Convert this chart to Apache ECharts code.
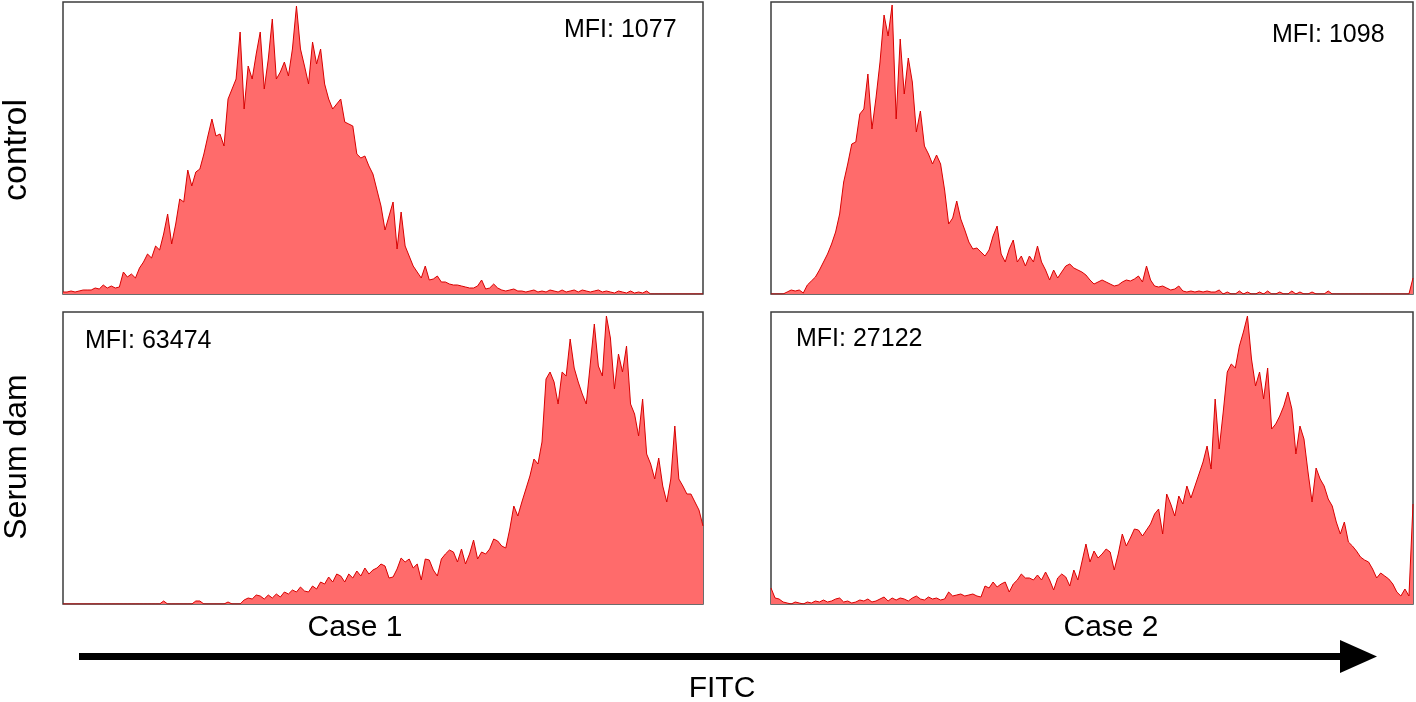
<!DOCTYPE html>
<html>
<head>
<meta charset="utf-8">
<script src="https://cdn.jsdelivr.net/npm/echarts@6/dist/echarts.min.js"></script>
<style>
html,body{margin:0;padding:0;background:#fff;}
#chart{width:1416px;height:702px;}
</style>
</head>
<body>
<div id="chart"></div>
<script>
// Histogram counts (relative heights, 160 channels per panel)
const controlCase1 = [2,2,3,2,3,4,4,4,6,5,9,6,8,6,7,22,17,20,16,26,32,40,36,48,44,60,80,50,70,95,92,124,108,122,125,140,158,175,158,160,148,195,205,215,262,185,228,215,240,262,205,235,275,215,222,232,218,245,288,245,228,210,252,230,245,210,195,185,190,195,172,170,168,140,136,138,128,120,104,88,64,78,92,45,82,48,38,28,22,16,28,14,15,18,12,12,10,9,9,8,7,6,6,8,14,5,6,10,6,4,3,4,5,3,3,2,3,4,2,3,2,4,3,2,4,2,3,4,2,4,3,2,3,4,2,3,2,1,3,2,1,3,1,2,1,3,0,0,0,0,0,0,0,0,0,0,0,0,0,0];
const controlCase2 = [0,0,0,0,2,4,3,4,1,9,13,17,24,32,40,50,62,80,112,130,150,152,180,185,220,165,196,232,279,258,289,175,255,200,236,212,162,183,148,140,130,139,130,104,70,76,93,75,64,52,45,46,42,38,44,58,68,40,32,45,54,32,38,28,38,32,48,32,24,14,24,16,22,28,30,26,24,22,19,14,10,12,14,12,10,8,9,12,14,13,15,18,12,28,14,8,7,8,6,4,5,8,3,2,3,2,3,2,3,2,2,4,0,2,0,0,3,0,2,0,0,2,0,3,0,0,2,0,0,3,0,2,0,0,2,0,0,0,3,0,0,0,0,0,0,0,0,0,0,0,0,0,0,0,0,0,0,0,0,16];
const serumCase1 = [0,0,0,0,0,0,0,0,0,0,0,0,0,0,0,0,0,0,0,0,0,0,0,0,0,3,0,0,0,0,0,0,0,3,3,0,0,0,0,0,0,2,0,0,0,4,6,5,9,8,5,9,6,10,7,12,10,14,12,17,13,12,18,15,22,20,27,22,30,28,22,30,26,33,28,36,30,34,36,40,38,26,27,35,46,42,45,36,40,24,45,44,34,28,45,50,54,52,42,55,40,50,64,45,52,50,55,65,63,58,56,75,98,88,102,115,128,145,140,162,225,232,222,200,232,228,265,236,222,210,200,240,280,238,228,288,266,215,250,232,258,200,190,168,205,150,140,125,146,118,102,125,178,125,118,110,110,102,94,78];
const serumCase2 = [16,6,5,2,1,0,2,1,0,2,1,3,2,4,2,3,5,6,2,3,1,2,4,3,5,2,3,5,7,3,6,4,6,5,3,6,8,5,4,7,5,6,4,5,12,8,9,10,8,9,10,8,7,18,16,22,17,20,22,12,20,24,30,26,26,24,29,24,32,24,14,26,30,27,18,34,24,42,60,42,53,46,50,55,52,34,50,70,58,66,75,74,68,74,80,90,95,70,110,100,88,108,100,118,106,118,130,142,158,135,205,155,192,232,240,236,258,272,288,245,218,232,205,236,175,180,188,198,212,195,150,178,165,132,102,136,125,118,105,98,82,70,82,62,58,53,47,44,42,35,26,31,28,25,20,12,8,15,8,100];

const channels = controlCase1.map((_, i) => i);
const panelSeries = [controlCase1, controlCase2, serumCase1, serumCase2];
const rowLabels = ['control', 'Serum dam'];
const colLabels = ['Case 1', 'Case 2'];
const mfiLabels = ['MFI: 1077', 'MFI: 1098', 'MFI: 63474', 'MFI: 27122'];
const axisTitle = 'FITC';

const grids = [
  {left: 63, top: 2, width: 640, height: 292},
  {left: 771, top: 2, width: 642, height: 292},
  {left: 63, top: 312, width: 640, height: 292},
  {left: 771, top: 312, width: 642, height: 292}
];
const mfiPos = [
  {x: 564, y: 30}, {x: 1272, y: 35}, {x: 85, y: 341}, {x: 796, y: 339}
];

const FONT = '"Liberation Sans", Arial, sans-serif';
const chart = echarts.init(document.getElementById('chart'), null, {renderer: 'canvas'});

const option = {
  animation: false,
  backgroundColor: '#ffffff',
  grid: grids.map(g => Object.assign({show: true, borderColor: '#3c3c3c', borderWidth: 1.5, backgroundColor: 'transparent'}, g)),
  xAxis: grids.map((g, i) => ({
    type: 'category', gridIndex: i, data: channels, boundaryGap: false,
    axisLine: {show: false}, axisTick: {show: false}, axisLabel: {show: false}, splitLine: {show: false}
  })),
  yAxis: grids.map((g, i) => ({
    type: 'value', gridIndex: i, min: 0, max: 292,
    axisLine: {show: false}, axisTick: {show: false}, axisLabel: {show: false}, splitLine: {show: false}
  })),
  series: panelSeries.map((d, i) => ({
    type: 'line', xAxisIndex: i, yAxisIndex: i, data: d,
    showSymbol: false, symbol: 'none',
    lineStyle: {color: '#d80000', width: 1},
    areaStyle: {color: '#ff6b6b', opacity: 1},
    z: 2
  })),
  graphic: [
    {type: 'text', x: 17, y: 150, rotation: Math.PI / 2,
     style: {text: rowLabels[0], font: '34px ' + FONT, fill: '#000', textAlign: 'center', textVerticalAlign: 'middle'}},
    {type: 'text', x: 17, y: 457, rotation: Math.PI / 2,
     style: {text: rowLabels[1], font: '32px ' + FONT, fill: '#000', textAlign: 'center', textVerticalAlign: 'middle'}},
    {type: 'text', x: 355, y: 628,
     style: {text: colLabels[0], font: '30px ' + FONT, fill: '#000', textAlign: 'center', textVerticalAlign: 'middle'}},
    {type: 'text', x: 1111, y: 628,
     style: {text: colLabels[1], font: '30px ' + FONT, fill: '#000', textAlign: 'center', textVerticalAlign: 'middle'}},
    {type: 'text', x: 722, y: 689,
     style: {text: axisTitle, font: '30px ' + FONT, fill: '#000', textAlign: 'center', textVerticalAlign: 'middle'}},
    {type: 'rect', shape: {x: 79, y: 653, width: 1265, height: 7}, style: {fill: '#000'}},
    {type: 'polygon', shape: {points: [[1340, 640], [1377, 656.5], [1340, 673]]}, style: {fill: '#000'}}
  ].concat(mfiLabels.map((t, i) => ({
    type: 'text', x: mfiPos[i].x, y: mfiPos[i].y, z: 10,
    style: {text: t, font: '25px ' + FONT, fill: '#000', textAlign: 'left', textVerticalAlign: 'middle'}
  })))
};
chart.setOption(option);
</script>
</body>
</html>
